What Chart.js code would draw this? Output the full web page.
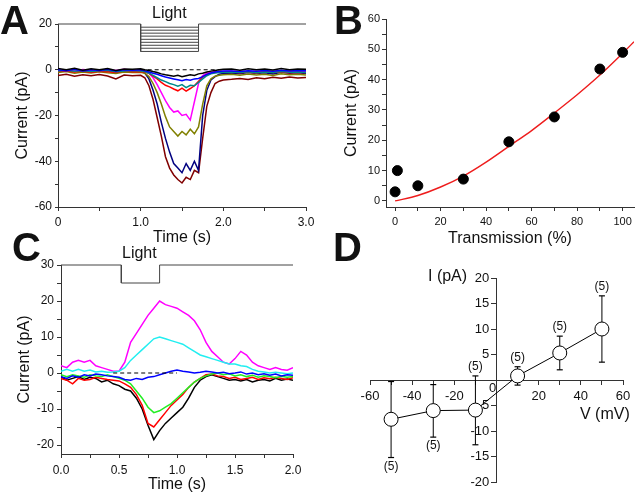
<!DOCTYPE html>
<html><head><meta charset="utf-8">
<script src="https://cdn.jsdelivr.net/npm/chart.js@4.4.1/dist/chart.umd.min.js"></script>
<style>
html,body{margin:0;padding:0;background:#fff;}
#wrap{position:relative;width:640px;height:494px;overflow:hidden;font-family:"Liberation Sans",Arial,sans-serif;color:#111;}
canvas{position:absolute;}
.t{position:absolute;white-space:nowrap;line-height:1;}
.L{font-size:40px;font-weight:bold;line-height:40px;}
.s{font-size:16px;line-height:16px;}
</style></head><body>
<div id="wrap">
<canvas id="cA" width="320" height="250" style="left:0;top:0"></canvas>
<canvas id="cB" width="320" height="250" style="left:320px;top:0"></canvas>
<canvas id="cC" width="320" height="244" style="left:0;top:250px"></canvas>
<canvas id="cD" width="320" height="244" style="left:320px;top:250px"></canvas>
<div class="t L" style="left:0;top:0">A</div>
<div class="t L" style="left:334px;top:0">B</div>
<div class="t L" style="left:12px;top:227px">C</div>
<div class="t L" style="left:333px;top:227px">D</div>
<div class="t s" style="left:152px;top:5px">Light</div>
<div class="t s" style="left:122px;top:245px">Light</div>
<div class="t s" style="left:428px;top:268px">I (pA)</div>
<div class="t s" style="left:580px;top:406px">V (mV)</div>
</div>
<script>
const FONT = '"Liberation Sans", Arial, sans-serif';

// ---------- Panel A data ----------
const timeA = [0,0.1,0.2,0.3,0.4,0.5,0.6,0.7,0.8,0.9,1.0,1.05,1.1,1.15,1.2,1.25,1.3,1.35,1.4,1.45,1.5,1.55,1.6,1.65,1.7,1.75,1.8,1.85,1.9,1.95,2.0,2.1,2.2,2.3,2.4,2.5,2.6,2.7,2.8,2.9,3.0];
const aBlack   = [0.5,0,0.6,-0.2,0.4,0,0.5,-0.3,0.3,0.2,0.4, 0,-0.3,-0.8,-1.2,-1.8,-2.2,-2.5,-2.8,-2.4,-3,-2.6,-2.2,-2.5,-1.8,-1.5,-1,-0.6,-0.3,0,0.2, 0.3,-0.2,0.4,0,0.3,-0.1,0.5,0,0.3,0.2];
const aBlue    = [0,-0.4,0.2,-0.5,0,-0.3,0.2,-0.5,0,-0.2,0, -0.5,-1,-1.5,-2,-2.6,-3.2,-3.6,-4,-4.4,-4.8,-4.3,-4.6,-4,-3.8,-3,-2,-1.4,-1,-0.8,-0.6, -0.5,-0.8,-0.4,-0.7,-0.3,-0.6,-0.2,-0.5,-0.3,-0.4];
const aTeal    = [-0.5,-0.2,-0.6,-0.3,-0.8,-0.4,-0.2,-0.9,-0.5,-0.3,-0.6, -0.8,-1.5,-2.5,-3.5,-4.5,-5.2,-6,-6.5,-7.2,-6.5,-7.8,-6.8,-7,-5.5,-4,-2.6,-1.8,-1.4,-1.2,-1.1, -1,-1.2,-0.9,-1.3,-1,-1.2,-0.8,-1.1,-1,-1.2];
const aRed     = [-0.8,-0.5,-1,-0.6,-1.1,-0.7,-0.9,-1.2,-0.6,-0.9,-0.8, -1,-1.6,-2.8,-4,-5.5,-6.8,-7.5,-8.4,-9.2,-8,-9.3,-8.2,-7,-5,-3.2,-2,-1.5,-1.2,-1,-1.1, -0.9,-1.3,-1,-1.4,-0.9,-1.2,-1,-1.3,-1.1,-1.2];
const aMagenta = [-0.3,0,-0.5,0.1,-0.2,-0.4,0,-0.3,0.2,-0.2,0, -0.6,-1.5,-3.5,-6.5,-10,-13.5,-16.5,-18.5,-18,-20,-19.5,-22,-14,-6,-2.5,-1.5,-1.1,-0.9,-0.8,-0.7, -0.6,-0.9,-0.5,-0.8,-0.6,-0.9,-0.5,-0.7,-0.6,-0.8];
const aOlive   = [-1.2,-0.8,-1.5,-1,-1.4,-0.9,-1.3,-1.6,-1,-1.2,-1.1, -1.5,-3,-6,-10,-15,-20.5,-25,-27,-29,-27,-28.5,-26,-28,-25,-15,-7,-4,-2.8,-2.4,-2.2, -2,-2.4,-1.9,-2.3,-2,-2.5,-1.8,-2.2,-2,-2.3];
const aNavy    = [-0.6,-0.2,-0.8,-0.4,-0.7,-0.3,-0.6,-1,-0.5,-0.7,-0.5, -1.5,-4,-9,-15,-23,-30,-36,-41,-43,-45,-41,-44,-40,-44,-20,-9,-4.5,-3,-2,-1.6, -1.4,-1.7,-1.2,-1.6,-1.3,-1.8,-1.1,-1.5,-1.3,-1.6];
const aDarkRed = [-2.5,-2,-2.8,-2.2,-2.6,-2.1,-2.7,-4,-2.3,-2.6,-2.4, -3.5,-7,-13,-21,-29,-38,-43,-46,-48,-49.5,-47,-48,-44,-45,-30,-16,-10,-6,-5,-4.5, -4.2,-3.8,-4.3,-3.5,-3.9,-3.3,-3.7,-3.2,-3.6,-3.4];
const stimLevelsA = [20,18.6,17.3,16,14.7,13.3,12,10.7,9.4,8];
const stimTimesA = [0, 1.0, 1.7, 3.0];   // start, on, off, end
const zeroLineA = [1.0, 2.0];

// ---------- Panel B data ----------
const transB = [0,1,10,30,50,70,90,100];
const currB  = [3,10,5,7.2,19.5,27.7,43.5,49];
const fitXB  = [0,10,20,30,40,50,60,70,80,90,100,105];
const fitYB  = [0,1.8,4.6,8.2,12.8,18,23.2,29,35,41.5,48.7,52.5];

// ---------- Panel C data ----------
const timeC = [0,0.05,0.1,0.15,0.2,0.25,0.3,0.35,0.4,0.45,0.5,0.55,0.6,0.65,0.7,0.75,0.8,0.85,0.9,0.95,1.0,1.05,1.1,1.15,1.2,1.25,1.3,1.35,1.4,1.45,1.5,1.55,1.6,1.65,1.7,1.75,1.8,1.85,1.9,1.95,2.0];
const cMagenta = [2,1.5,3,3.5,3,3.5,2,1.5,1,0.5,0.5, 3,8.5,11,13.5,16,18,20,19,18.5,18,17,16,14.5,12,8.5,6,4.5,3,2.5,4,6,5,3,2,1.5,1,1.5,1,0.8,1.5];
const cCyan    = [0.5,1,0.5,1,0.5,0.8,0.3,0.5,0.2,0.3,0.5, 1.5,3.5,5,6.5,8,9.5,10,9.5,9,8.5,8,7,6,5,4.5,4,3.5,3,2.5,2.5,2,1.8,1,0.5,0.3,0,0.2,0,-0.2,0];
const cBlue    = [-1,-1.5,-0.8,-1.2,-0.5,-0.8,-0.3,-0.5,-0.8,-1,-1.2, -1.8,-2,-1.5,-1.8,-1.2,-1,-0.5,0,0.5,0.8,0.5,0.3,0,0.2,0.5,0.3,0,0.2,-0.2,0,0.3,-0.3,0,-0.5,-0.2,-0.6,-0.3,-0.8,-0.5,-0.6];
const cGreen   = [-0.5,-1,-0.5,-0.8,-1.2,-0.5,-0.8,-1,-0.5,-1,-1.5, -2,-3,-5,-7,-9.5,-11,-10.5,-9.5,-8.5,-7,-5.5,-4,-2.5,-1.5,-0.8,-0.3,0,-0.5,-0.2,-0.8,-0.5,-1,-0.6,-1.2,-0.8,-1,-1.3,-0.9,-1.2,-1];
const cRed     = [-1.5,-2,-3,-1.5,-2,-1.8,-1.2,-1.5,-1.8,-2,-2.2, -3,-4,-6,-9,-14,-15,-13,-11,-9,-7.5,-6,-4,-2.5,-1.5,-0.5,-0.3,-0.8,-1,-1.5,-1.2,-1.8,-1.5,-1.2,-1.8,-1.3,-1.6,-1.2,-1.5,-1.8,-1.3];
const cBlack   = [-1,-2,-1.5,-1,-1.8,-1.2,-1.5,-2.5,-2,-3,-3.5, -4.5,-5,-7,-10,-14.5,-18.5,-16,-14,-12.5,-11,-9.5,-7,-4,-2,-1,-0.5,-1,-1.5,-2,-1.8,-2.2,-1.8,-2.5,-2,-1.8,-2.2,-1.5,-2,-1.7,-2];
const stimXC = [0,0.52,0.52,0.85,0.85,2.0];
const stimYC = [30,30,25,25,30,30];
const zeroLineC = [0.45, 1.0];

// ---------- Panel D data ----------
const voltD = [-50,-30,-10,10,30,50];
const curD  = [-7.7,-6,-5.9,0.8,5.3,10];
const errHiD = [-0.3,-0.9,0.8,2.6,8.6,16.5];
const errLoD = [-15.2,-11.2,-12.7,-1,2,3.5];
const nD = ['(5)','(5)','(5)','(5)','(5)','(5)'];
const nPosD = ['below','below','above','above','above','above'];

// ---------- helpers ----------
const pts = (xs, ys) => xs.map((x,i)=>({x:x, y:ys[i]}));
function axis(o){
  return {
    type:'linear', min:o.min, max:o.max, position:o.pos,
    afterFit: o.fit,
    border:{display:true, color:'#333', width:1},
    grid:{display:true, drawOnChartArea:false, drawTicks:true, tickLength:o.tl||4, color:'#333', tickColor:'#333'},
    ticks:{stepSize:o.step, autoSkip:false, includeBounds:false, padding:o.pad, color:'#111',
           font:{family:FONT, size:o.fs}, maxRotation:0, callback:o.cb},
    title: o.title ? {display:true, text:o.title, color:'#111', font:{family:FONT, size:16}, padding:o.tpad} : {display:false}
  };
}
function trace(xs, ys, color, w){
  return {data:pts(xs, ys), borderColor:color, borderWidth:w||1.5, pointRadius:0, tension:0};
}
const base = (pad) => ({
  responsive:false, animation:false,
  layout:{padding:pad},
  elements:{point:{radius:0}, line:{tension:0}},
  plugins:{legend:{display:false}, tooltip:{enabled:false}}
});

// ---------- Chart A ----------
(function(){
  const stim = [];
  const lo = stimLevelsA[stimLevelsA.length-1], hi = stimLevelsA[0];
  stim.push({x:stimTimesA[0], y:hi}, {x:stimTimesA[1], y:hi}, {x:stimTimesA[1], y:lo},
            {x:stimTimesA[2], y:lo}, {x:stimTimesA[2], y:hi}, {x:stimTimesA[3], y:hi});
  for (let i=1;i<stimLevelsA.length-1;i++){
    stim.push({x:(stimTimesA[1]+stimTimesA[2])/2, y:null});
    stim.push({x:stimTimesA[1], y:stimLevelsA[i]}, {x:stimTimesA[2], y:stimLevelsA[i]});
  }
  const o = base({left:0, top:24, right:14, bottom:0});
  o.scales = {
    x: axis({min:0, max:3, step:0.5, pad:4, tl:4, fs:12, pos:'bottom',
             fit:s=>{s.height=43;}, title:'Time (s)', tpad:{top:0,bottom:3},
             cb:v=> (Math.abs(v-Math.round(v))<1e-9) ? (v===0?'0':v.toFixed(1)) : ''}),
    y: axis({min:-60, max:20, step:10, pad:3, tl:3, fs:12, pos:'left',
             fit:s=>{s.width=58;}, title:'Current (pA)', tpad:{top:13,bottom:0},
             cb:v=> (v%20===0) ? String(v) : ''})
  };
  new Chart(document.getElementById('cA'), {
    type:'line',
    data:{datasets:[
      {data:pts(zeroLineA,[0,0]), borderColor:'#000', borderWidth:1, borderDash:[4,3], pointRadius:0},
      trace(timeA, aBlack, '#000000'),
      trace(timeA, aBlue, '#0000ff'),
      trace(timeA, aTeal, '#008b8b'),
      trace(timeA, aRed, '#ff0000'),
      trace(timeA, aMagenta, '#ff00ff'),
      trace(timeA, aOlive, '#808000'),
      trace(timeA, aNavy, '#000080'),
      trace(timeA, aDarkRed, '#800000'),
      {data:stim, borderColor:'#444', borderWidth:1, pointRadius:0, spanGaps:false, clip:false}
    ]},
    options:o
  });
})();

// ---------- Chart B ----------
(function(){
  const o = base({left:0, top:19, right:0, bottom:0});
  o.scales = {
    x: axis({min:-4, max:105, step:10, pad:4, tl:4, fs:11, pos:'bottom',
             fit:s=>{s.height=43;}, title:'Transmission (%)', tpad:{top:0,bottom:2},
             cb:v=> (v%20===0) ? String(v) : ''}),
    y: axis({min:-2, max:60, step:5, pad:2, tl:4, fs:11, pos:'left',
             fit:s=>{s.width=66;}, title:'Current (pA)', tpad:{top:22,bottom:0},
             cb:v=> (v%10===0) ? String(v) : ''})
  };
  new Chart(document.getElementById('cB'), {
    type:'scatter',
    data:{datasets:[
      {data:pts(transB, currB), pointRadius:5, pointBackgroundColor:'#000', pointBorderColor:'#000', showLine:false},
      {data:pts(fitXB, fitYB), borderColor:'#ee1c1c', borderWidth:1.4, pointRadius:0, showLine:true, tension:0.3}
    ]},
    options:o
  });
})();

// ---------- Chart C ----------
(function(){
  const o = base({left:0, top:15, right:27, bottom:0});
  o.scales = {
    x: axis({min:0, max:2, step:0.25, pad:5, tl:4, fs:12, pos:'bottom',
             fit:s=>{s.height=40;}, title:'Time (s)', tpad:{top:0,bottom:0},
             cb:v=> (Math.abs(v*2-Math.round(v*2))<1e-9) ? v.toFixed(1) : ''}),
    y: axis({min:-22.5, max:30, step:5, pad:3, tl:4, fs:12, pos:'left',
             fit:s=>{s.width=61;}, title:'Current (pA)', tpad:{top:15,bottom:0},
             cb:v=> (v%10===0) ? String(v) : ''})
  };
  new Chart(document.getElementById('cC'), {
    type:'line',
    data:{datasets:[
      {data:pts(zeroLineC,[0,0]), borderColor:'#000', borderWidth:1, borderDash:[4,3], pointRadius:0},
      trace(timeC, cBlue, '#0000ff'),
      trace(timeC, cGreen, '#22ee22'),
      trace(timeC, cRed, '#ff0000'),
      trace(timeC, cBlack, '#000000'),
      trace(timeC, cCyan, '#22eef0'),
      trace(timeC, cMagenta, '#ff00ff'),
      {data:pts(stimXC, stimYC), borderColor:'#444', borderWidth:1, pointRadius:0, clip:false}
    ]},
    options:o
  });
})();

// ---------- Chart D ----------
(function(){
  const err = [];
  voltD.forEach((v,i)=>{
    if (i>0) err.push({x:v, y:null});
    err.push({x:v, y:errLoD[i]}, {x:v, y:errHiD[i]});
  });
  const nLabels = {
    id:'nLabels',
    afterDatasetsDraw(chart){
      const {ctx} = chart; const x = chart.scales.x, y = chart.scales.y;
      ctx.save();
      ctx.fillStyle = '#111'; ctx.textAlign='center'; ctx.textBaseline='middle';
      ctx.font = '12px ' + FONT;
      voltD.forEach((v,i)=>{
        const px = x.getPixelForValue(v);
        const py = nPosD[i]==='above' ? y.getPixelForValue(errHiD[i]) - 9 : y.getPixelForValue(errLoD[i]) + 9;
        ctx.fillText(nD[i], px, py);
      });
      ctx.font = '13px ' + FONT;
      ctx.fillText('0', x.getPixelForValue(0) - 4, y.getPixelForValue(0) + 8);
      ctx.restore();
    }
  };
  const o = base({left:50, top:28, right:17, bottom:12});
  o.scales = {
    x: axis({min:-60, max:60, step:10, pad:5, tl:4, fs:13, pos:{y:0},
             cb:v=> (v%20===0 && v!==0) ? String(v) : ''}),
    y: axis({min:-20, max:20, step:5, pad:1, tl:5, fs:13, pos:{x:0},
             cb:v=> (v===0) ? '' : String(v) + '  '})
  };
  new Chart(document.getElementById('cD'), {
    type:'scatter',
    data:{datasets:[
      {data:pts(voltD, curD), showLine:true, borderColor:'#000', borderWidth:1,
       pointRadius:7, pointBackgroundColor:'#fff', pointBorderColor:'#000', pointBorderWidth:1},
      {data:err, showLine:true, spanGaps:false, borderColor:'#000', borderWidth:1,
       pointStyle:'line', pointRadius:3, pointBorderColor:'#000', pointBorderWidth:1.2}
    ]},
    options:o,
    plugins:[nLabels]
  });
})();
</script>
</body></html>
